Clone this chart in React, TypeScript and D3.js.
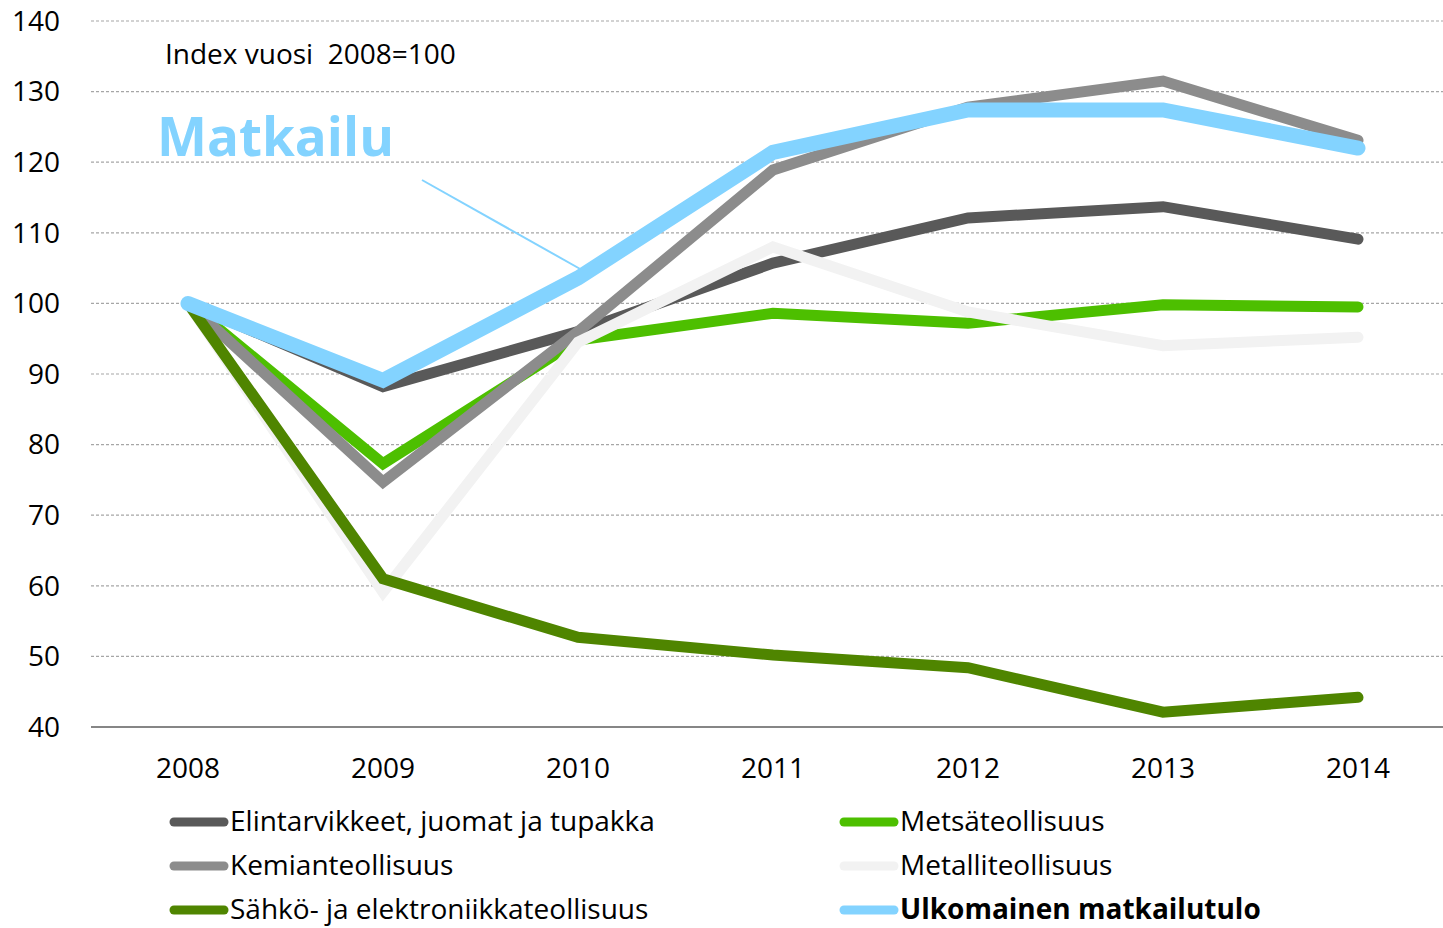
import React, { useEffect } from 'react';
import * as d3 from 'd3';

// vuodet ja sarjat (indeksi 2008=100)
const years = ['2008', '2009', '2010', '2011', '2012', '2013', '2014'];
const elintarvikkeet = [100, 88.2, 96, 105.7, 112.1, 113.7, 109.1];
const metsa = [100, 77.3, 94.8, 98.6, 97.2, 99.8, 99.5];
const kemia = [100, 74.7, 96, 118.9, 127.8, 131.5, 123.1];
const metalli = [100, 59.1, 94.5, 108, 98.8, 94, 95.2];
const sahko = [100, 61, 52.7, 50.2, 48.4, 42.1, 44.2];
const matkailu = [100, 89.1, 103.6, 121.4, 127.4, 127.4, 122];
const yTicks = [40, 50, 60, 70, 80, 90, 100, 110, 120, 130, 140];

const series = [
  { name: 'Elintarvikkeet, juomat ja tupakka', values: elintarvikkeet, color: '#595959', width: 11, bold: false },
  { name: 'Metsäteollisuus', values: metsa, color: '#4dbf00', width: 11, bold: false },
  { name: 'Kemianteollisuus', values: kemia, color: '#8c8c8c', width: 11, bold: false },
  { name: 'Metalliteollisuus', values: metalli, color: '#f2f2f2', width: 11, bold: false },
  { name: 'Sähkö- ja elektroniikkateollisuus', values: sahko, color: '#4f8500', width: 11, bold: false },
  { name: 'Ulkomainen matkailutulo', values: matkailu, color: '#83d3ff', width: 15, bold: true },
];

const W = 1443;
const H = 928;
const FONT = "'Open Sans', sans-serif";

export default function App() {
  useEffect(() => {
    document.body.style.margin = '0';
  }, []);

  const x = d3.scalePoint<string>().domain(years).range([90.5, 1455.5]).padding(0.5);
  const y = d3.scaleLinear().domain([40, 140]).range([727, 21]);
  const line = d3.line<number>()
    .x((_, i) => x(years[i]) as number)
    .y(d => y(d));

  // legenda: kaksi saraketta, sarakkeittain
  const legendPos = (i: number) => ({
    lx: i % 2 === 0 ? 170 : 840,
    ly: 822 + Math.floor(i / 2) * 44,
  });

  return (
    <svg width={W} height={H} style={{ display: 'block', fontFamily: FONT }}>
      <rect width={W} height={H} fill="#fff" />
      {yTicks.slice(1).map(t => (
        <line key={t} x1={91} x2={W} y1={y(t)} y2={y(t)}
          stroke="#a6a6a6" strokeWidth={1.2} strokeDasharray="3,2" />
      ))}
      <line x1={91} x2={W} y1={y(40)} y2={y(40)} stroke="#868686" strokeWidth={2} />
      {yTicks.map(t => (
        <text key={t} x={60} y={y(t)} dy="0.35em" textAnchor="end" fontSize={28} fill="#000">{t}</text>
      ))}
      {years.map(yr => (
        <text key={yr} x={x(yr)} y={778} textAnchor="middle" fontSize={28} fill="#000">{yr}</text>
      ))}

      <text x={165} y={64} fontSize={28} fill="#000" style={{ whiteSpace: 'pre' }}>Index vuosi  2008=100</text>
      <text x={157} y={156} fontSize={53} fontWeight="bold" fill="#83d3ff">Matkailu</text>
      <line x1={422} y1={180} x2={582} y2={270} stroke="#83d3ff" strokeWidth={2} />

      {series.map(s => (
        <path key={s.name} d={line(s.values) || ''} fill="none" stroke={s.color}
          strokeWidth={s.width} strokeLinejoin="miter" strokeLinecap="round" />
      ))}

      {series.map((s, i) => {
        const { lx, ly } = legendPos(i);
        return (
          <g key={s.name}>
            <line x1={lx + 4} x2={lx + 54} y1={ly} y2={ly} stroke={s.color}
              strokeWidth={9} strokeLinecap="round" />
            <text x={lx + 60} y={ly} dy="0.33em" fontSize={28}
              fontWeight={s.bold ? 'bold' : 'normal'} fill="#000">{s.name}</text>
          </g>
        );
      })}
    </svg>
  );
}
